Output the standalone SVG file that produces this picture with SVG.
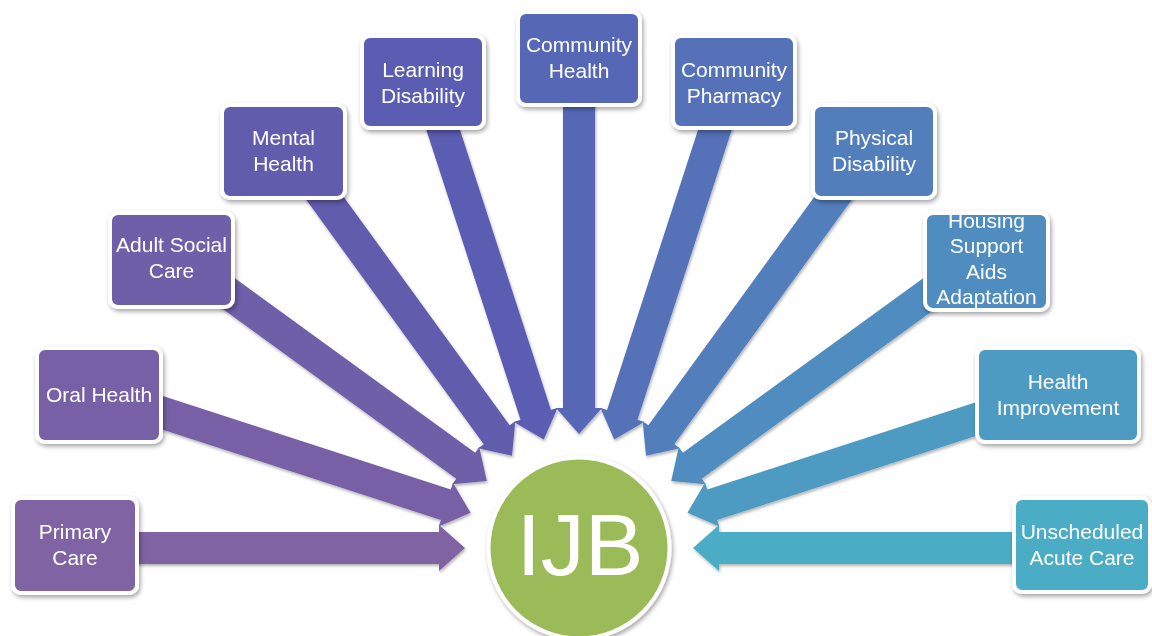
<svg xmlns="http://www.w3.org/2000/svg" width="1152" height="636" viewBox="0 0 1152 636">
<defs>
<filter id="sh" x="-20%" y="-20%" width="140%" height="140%">
<feDropShadow dx="1.5" dy="2.5" stdDeviation="2" flood-color="#000" flood-opacity="0.35"/>
</filter>
<filter id="ash" x="-10%" y="-10%" width="120%" height="120%">
<feDropShadow dx="1" dy="2" stdDeviation="1.5" flood-color="#000" flood-opacity="0.3"/>
</filter>
<path id="arr" d="M -480,-16 L -140,-16 L -140,-23 L -114,0 L -140,23 L -140,16 L -480,16 Z"/>
</defs>
<style>
.box{stroke:#fff;stroke-width:4;filter:url(#sh)}
.lbl{font-family:"Liberation Sans",Arial,sans-serif;font-size:21px;fill:#fff;text-anchor:middle}
</style>
<rect width="1152" height="636" fill="#fff"/>
<g id="connectors" filter="url(#ash)">
<use href="#arr" transform="translate(579,548) rotate(0)" fill="#8064A2"/>
<use href="#arr" transform="translate(579,548) rotate(18)" fill="#7861A6"/>
<use href="#arr" transform="translate(579,548) rotate(36)" fill="#6E5FA9"/>
<use href="#arr" transform="translate(579,548) rotate(54)" fill="#625CAD"/>
<use href="#arr" transform="translate(579,548) rotate(72)" fill="#5A5DB1"/>
<use href="#arr" transform="translate(579,548) rotate(90)" fill="#5767B5"/>
<use href="#arr" transform="translate(579,548) rotate(108)" fill="#5572B8"/>
<use href="#arr" transform="translate(579,548) rotate(126)" fill="#527EBC"/>
<use href="#arr" transform="translate(579,548) rotate(144)" fill="#508CBF"/>
<use href="#arr" transform="translate(579,548) rotate(162)" fill="#4D9BC2"/>
<use href="#arr" transform="translate(579,548) rotate(180)" fill="#4BACC6"/>
</g>
<g id="ijb">
<circle cx="579" cy="548" r="90.5" fill="#9BBB59" stroke="#fff" stroke-width="4" filter="url(#sh)"/>
<text x="580" y="575" font-family="Liberation Sans,Arial,sans-serif" font-size="88" fill="#fff" text-anchor="middle">IJB</text>
</g>
<g id="primary-care">
<rect class="box" x="13" y="498" width="124" height="95" rx="8" fill="#8064A2"/>
<text class="lbl" x="75" y="539">Primary</text><text class="lbl" x="75" y="565">Care</text>
</g>
<g id="oral-health">
<rect class="box" x="37" y="348" width="124" height="94" rx="8" fill="#7861A6"/>
<text class="lbl" x="99" y="402">Oral Health</text>
</g>
<g id="adult-social-care">
<rect class="box" x="110" y="213" width="123" height="94" rx="8" fill="#6E5FA9"/>
<text class="lbl" x="171.5" y="252">Adult Social</text><text class="lbl" x="171.5" y="278">Care</text>
</g>
<g id="mental-health">
<rect class="box" x="222" y="105" width="123" height="93" rx="8" fill="#625CAD"/>
<text class="lbl" x="283.5" y="145">Mental</text><text class="lbl" x="283.5" y="171">Health</text>
</g>
<g id="learning-disability">
<rect class="box" x="362" y="36" width="122" height="92" rx="8" fill="#5A5DB1"/>
<text class="lbl" x="423" y="77">Learning</text><text class="lbl" x="423" y="103">Disability</text>
</g>
<g id="community-health">
<rect class="box" x="518" y="12" width="122" height="93" rx="8" fill="#5767B5"/>
<text class="lbl" x="579" y="52">Community</text><text class="lbl" x="579" y="78">Health</text>
</g>
<g id="community-pharmacy">
<rect class="box" x="673" y="36" width="122" height="92" rx="8" fill="#5572B8"/>
<text class="lbl" x="734" y="77">Community</text><text class="lbl" x="734" y="103">Pharmacy</text>
</g>
<g id="physical-disability">
<rect class="box" x="813" y="105" width="122" height="93" rx="8" fill="#527EBC"/>
<text class="lbl" x="874" y="145">Physical</text><text class="lbl" x="874" y="171">Disability</text>
</g>
<g id="housing-support">
<rect class="box" x="925" y="213" width="123" height="97" rx="8" fill="#508CBF"/>
<text class="lbl" x="986.5" y="228">Housing</text><text class="lbl" x="986.5" y="253">Support</text><text class="lbl" x="986.5" y="279">Aids</text><text class="lbl" x="986.5" y="304">Adaptation</text>
</g>
<g id="health-improvement">
<rect class="box" x="977" y="348" width="162" height="94" rx="8" fill="#4D9BC2"/>
<text class="lbl" x="1058" y="389">Health</text><text class="lbl" x="1058" y="415">Improvement</text>
</g>
<g id="unscheduled-acute-care">
<rect class="box" x="1014" y="498" width="136" height="94" rx="8" fill="#4BACC6"/>
<text class="lbl" x="1082" y="539">Unscheduled</text><text class="lbl" x="1082" y="565">Acute Care</text>
</g>
</svg>
